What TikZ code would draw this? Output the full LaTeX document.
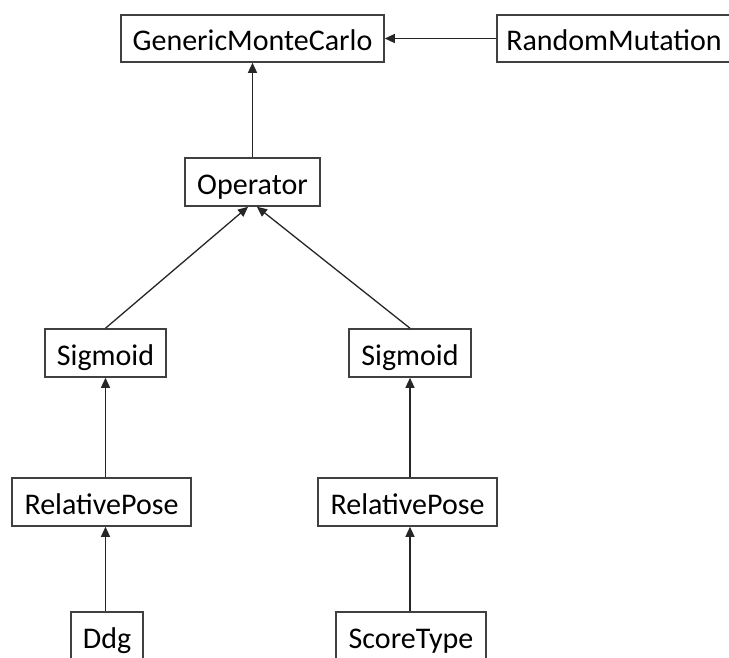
\documentclass[tikz,border=0pt]{standalone}
\usepackage{fontspec}
\setmainfont{Carlito}
\usetikzlibrary{
  arrows.meta,
  positioning,
}
\tikzset{
  >={Triangle[length=10pt,width=9pt]},
  shorten >=0pt,
}
\begin{document}
\begin{tikzpicture}[
      x=1pt, y=-1pt,
      every node/.style={font=\fontsize{30}{35}\selectfont},
      cls/.style={draw=black!75, line width=1.6pt, inner sep=0pt, minimum height=48pt, text height=30pt, text depth=6pt},
      inherit/.style={->, line width=1.3pt, draw=black!85},
    ]
      \clip (0,0) rectangle (729,657);
      \node [cls, minimum width=263pt, minimum height=47pt] (generic) at (252.5,38.5) {GenericMonteCarlo};
      \node [cls, minimum width=234pt, minimum height=47pt] (mutation) at (614,38.5) {RandomMutation};
      \node [cls, minimum width=135pt] (operator) at (252.5,182) {Operator};
      \node [cls, minimum width=121pt] (sigmoidL) at (105.5,353) {Sigmoid};
      \node [cls, minimum width=122pt] (sigmoidR) at (410,353) {Sigmoid};
      \node [cls, minimum width=179pt] (poseL) at (101.5,502) {RelativePose};
      \node [cls, minimum width=179pt] (poseR) at (407.5,502) {RelativePose};
      \node [cls, minimum width=72pt] (ddg) at (107,636) {Ddg};
      \node [cls, minimum width=150pt] (score) at (411,636) {ScoreType};
      \draw [inherit] (mutation) -- (generic);
      \draw [inherit] (operator) -- (generic);
      \draw [inherit] (sigmoidL.north) -- ([xshift=-4.5pt]operator.south);
      \draw [inherit] (sigmoidR.north) -- ([xshift=4.5pt]operator.south);
      \draw [inherit] (poseL.north -| sigmoidL.south) -- (sigmoidL.south);
      \draw [inherit] (poseR.north -| sigmoidR.south) -- (sigmoidR.south);
      \draw [inherit] (ddg.north -| sigmoidL.south) -- (poseL.south -| sigmoidL.south);
      \draw [inherit] (score.north -| sigmoidR.south) -- (poseR.south -| sigmoidR.south);
    \end{tikzpicture}
\end{document}
